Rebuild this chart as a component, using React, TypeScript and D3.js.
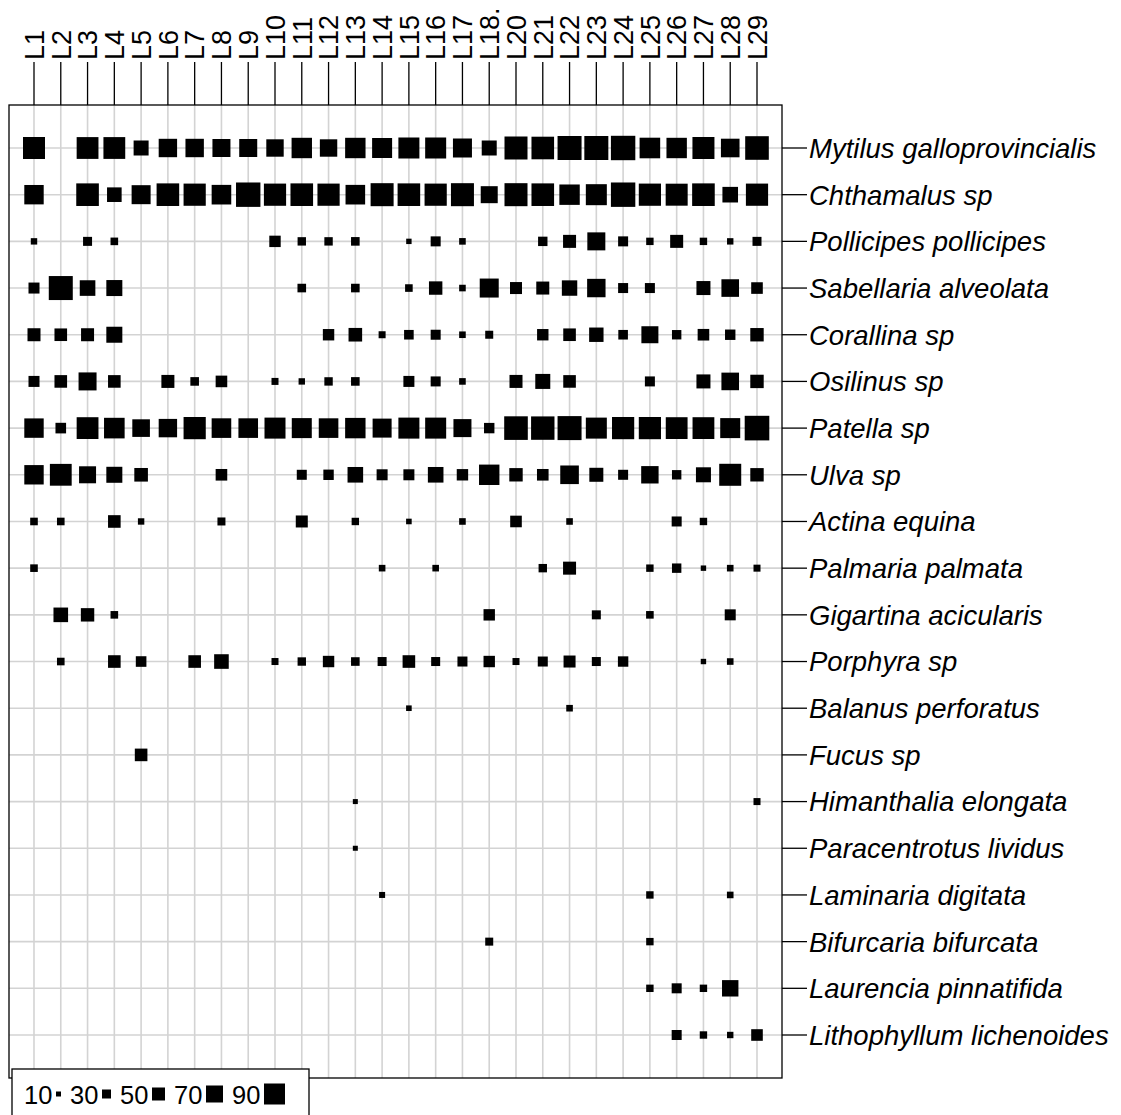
import React from "react";
import * as d3 from "d3";

const sites = ["L1","L2","L3","L4","L5","L6","L7","L8","L9","L10","L11","L12","L13","L14","L15","L16","L17","L18.","L20","L21","L22","L23","L24","L25","L26","L27","L28","L29"];

const species = [
  "Mytilus galloprovincialis","Chthamalus sp","Pollicipes pollicipes","Sabellaria alveolata",
  "Corallina sp","Osilinus sp","Patella sp","Ulva sp","Actina equina","Palmaria palmata",
  "Gigartina acicularis","Porphyra sp","Balanus perforatus","Fucus sp","Himanthalia elongata",
  "Paracentrotus lividus","Laminaria digitata","Bifurcaria bifurcata","Laurencia pinnatifida",
  "Lithophyllum lichenoides"
];

// abundance per site (L1 ... L29), 0 = absent
const mytilus =      [95,0,94,94,60,77,77,75,75,72,87,72,87,85,90,90,80,60,100,98,105,105,107,88,87,95,78,103];
const chthamalus =   [82,0,98,58,80,98,96,83,107,96,98,96,83,100,98,96,100,70,100,98,87,90,107,96,95,98,63,96];
const pollicipes =   [17,0,30,23,0,0,0,0,0,42,27,27,28,0,12,35,18,0,0,32,50,75,35,22,50,22,17,30];
const sabellaria =   [40,105,63,65,0,0,0,0,0,0,28,0,28,0,23,52,18,80,45,50,62,77,35,35,0,55,73,43];
const corallina =    [50,48,50,65,0,0,0,0,0,0,0,42,53,20,33,35,18,25,0,42,48,57,33,70,32,43,37,52];
const osilinus =     [40,48,75,48,0,50,28,43,0,20,17,27,28,0,40,35,18,0,50,60,48,0,0,35,0,55,73,52];
const patella =      [82,38,94,88,73,77,96,83,83,90,85,83,87,80,90,90,75,37,103,102,105,90,96,96,94,94,85,108];
const ulva =         [82,94,70,65,53,0,0,43,0,0,35,37,63,40,40,63,42,87,52,43,78,55,35,72,32,60,95,52];
const actina =       [23,23,0,48,17,0,0,25,0,0,45,0,22,0,13,0,18,0,43,0,18,0,0,0,35,22,0,0];
const palmaria =     [23,0,0,0,0,0,0,0,0,0,0,0,0,18,0,18,0,0,0,27,50,0,0,22,32,12,18,20];
const gigartina =    [0,58,52,23,0,0,0,0,0,0,0,0,0,0,0,0,0,42,0,0,0,30,0,23,0,0,40,0];
const porphyra =     [0,23,0,48,38,0,48,58,0,20,27,42,28,30,48,30,35,42,20,35,45,30,37,0,0,12,18,0];
const balanus =      [0,0,0,0,0,0,0,0,0,0,0,0,0,0,13,0,0,0,0,0,18,0,0,0,0,0,0,0];
const fucus =        [0,0,0,0,48,0,0,0,0,0,0,0,0,0,0,0,0,0,0,0,0,0,0,0,0,0,0,0];
const himanthalia =  [0,0,0,0,0,0,0,0,0,0,0,0,10,0,0,0,0,0,0,0,0,0,0,0,0,0,0,20];
const paracentrotus =[0,0,0,0,0,0,0,0,0,0,0,0,10,0,0,0,0,0,0,0,0,0,0,0,0,0,0,0];
const laminaria =    [0,0,0,0,0,0,0,0,0,0,0,0,0,15,0,0,0,0,0,0,0,0,0,22,0,0,18,0];
const bifurcaria =   [0,0,0,0,0,0,0,0,0,0,0,0,0,0,0,0,0,25,0,0,0,0,0,22,0,0,0,0];
const laurencia =    [0,0,0,0,0,0,0,0,0,0,0,0,0,0,0,0,0,0,0,0,0,0,0,22,35,22,67,0];
const lithophyllum = [0,0,0,0,0,0,0,0,0,0,0,0,0,0,0,0,0,0,0,0,0,0,0,0,35,22,17,43];

const legendValues = [10, 30, 50, 70, 90];

const rows = [mytilus, chthamalus, pollicipes, sabellaria, corallina, osilinus, patella, ulva,
  actina, palmaria, gigartina, porphyra, balanus, fucus, himanthalia, paracentrotus,
  laminaria, bifurcaria, laurencia, lithophyllum];

const FONT = "'Liberation Sans', Arial, Helvetica, sans-serif";

export default function App() {
  const W = 1121, H = 1115;
  const plot = { left: 9, top: 105, right: 782, bottom: 1078 };
  const x = d3.scalePoint<string>().domain(sites).range([34, 757]);
  const y = d3.scalePoint<string>().domain(species).range([148, 1035]);
  const size = d3.scaleLinear().domain([0, 100]).range([3, 23]);

  const cells: { s: string; sp: string; v: number }[] = [];
  rows.forEach((vals, i) => {
    vals.forEach((v, j) => {
      if (v > 0) cells.push({ s: sites[j], sp: species[i], v });
    });
  });

  // legend layout
  let lx = 24;
  const legendItems = legendValues.map((v) => {
    const s = size(v);
    const item = { v, tx: lx, sx: lx + 32, s };
    lx = lx + 32 + s + 9;
    return item;
  });

  return (
    <svg width={W} height={H} style={{ position: "absolute", left: 0, top: 0, background: "#fff" }}
      fontFamily={FONT}>
      <rect x={0} y={0} width={W} height={H} fill="#fff" />
      {/* grid */}
      {sites.map((s) => (
        <line key={"gx" + s} x1={x(s)} x2={x(s)} y1={plot.top} y2={plot.bottom} stroke="#d3d3d3" strokeWidth={1.6} />
      ))}
      {species.map((sp) => (
        <line key={"gy" + sp} x1={plot.left} x2={plot.right} y1={y(sp)} y2={y(sp)} stroke="#d3d3d3" strokeWidth={1.6} />
      ))}
      {/* squares */}
      {cells.map((c, i) => {
        const s = size(c.v);
        return <rect key={i} x={(x(c.s) as number) - s / 2} y={(y(c.sp) as number) - s / 2} width={s} height={s} fill="#000" />;
      })}
      {/* frame */}
      <rect x={plot.left} y={plot.top} width={plot.right - plot.left} height={plot.bottom - plot.top} fill="none" stroke="#000" strokeWidth={1.3} />
      {/* top axis */}
      {sites.map((s) => (
        <g key={"tx" + s}>
          <line x1={x(s)} x2={x(s)} y1={plot.top} y2={62} stroke="#000" strokeWidth={1.3} />
          <text transform={`translate(${x(s)},60) rotate(-90)`} dy="0.36em" fontSize={27} textAnchor="start" fill="#000">{s}</text>
        </g>
      ))}
      {/* right axis */}
      {species.map((sp) => (
        <g key={"ty" + sp}>
          <line x1={plot.right} x2={807} y1={y(sp)} y2={y(sp)} stroke="#000" strokeWidth={1.3} />
          <text x={809} y={y(sp)} dy="0.36em" fontSize={27.5} fontStyle="italic" fill="#000">{sp}</text>
        </g>
      ))}
      {/* legend */}
      <rect x={12} y={1069} width={297} height={70} fill="#fff" stroke="#000" strokeWidth={1.3} />
      {legendItems.map((it) => (
        <g key={"lg" + it.v}>
          <text x={it.tx} y={1104} fontSize={25.5} fill="#000">{it.v}</text>
          <rect x={it.sx} y={1094 - it.s / 2} width={it.s} height={it.s} fill="#000" />
        </g>
      ))}
    </svg>
  );
}
